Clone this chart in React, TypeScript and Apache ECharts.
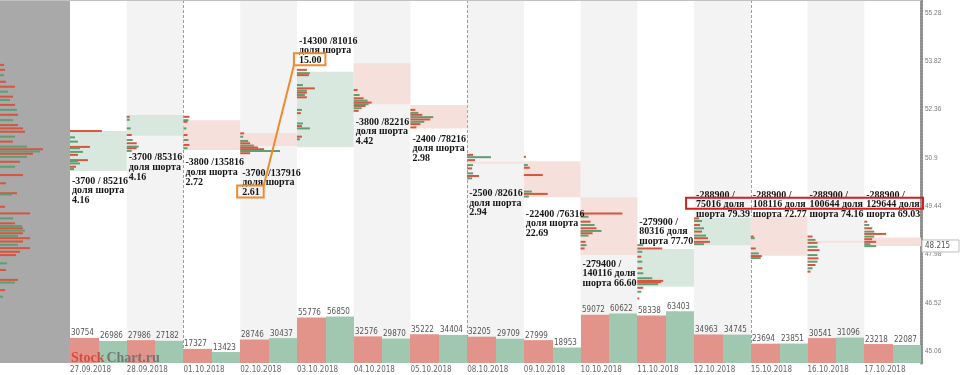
import React, { useEffect, useRef } from "react";
import * as echarts from "echarts";

// ---------- data ----------
const dates = [
  "27.09.2018", "28.09.2018", "01.10.2018", "02.10.2018", "03.10.2018",
  "04.10.2018", "05.10.2018", "08.10.2018", "09.10.2018", "10.10.2018",
  "11.10.2018", "12.10.2018", "15.10.2018", "16.10.2018", "17.10.2018",
];
const sellVolume = [30754, 27986, 17327, 28746, 55776, 32576, 35222, 32205, 27999, 59072, 58338, 34963, 23694, 30541, 23218];
const buyVolume = [26986, 27182, 13423, 30437, 56850, 29870, 34404, 29709, 18953, 60622, 63403, 34745, 23851, 31096, 22087];
const openPrice = [50.48, 51.55, 52.02, 51.63, 51.2, 53.74, 52.48, 50.76, 50.78, 49.69, 46.98, 48.24, 49.12, 48.37, 48.47];
const closePrice = [51.69, 52.175, 51.12, 51.24, 53.48, 52.5, 51.77, 50.7, 49.69, 47.94, 48.12, 49.07, 47.92, 48.31, 48.215];
const notePrice = [50.21, 50.91, 50.76, 50.44, 54.44, 51.99, 51.47, 49.83, 49.2, 47.69, 48.97, 49.78, 49.78, 49.78, 49.78];
const noteLines = [
  ["-3700 / 85216", "доля шорта", "4.16"],
  ["-3700 /85316", "доля шорта", "4.16"],
  ["-3800 /135816", "доля шорта", "2.72"],
  ["-3700 /137916", "доля шорта", "2.61"],
  ["-14300 /81016", "доля шорта", "15.00"],
  ["-3800 /82216", "доля шорта", "4.42"],
  ["-2400 /78216", "доля шорта", "2.98"],
  ["-2500 /82616", "доля шорта", "2.94"],
  ["-22400 /76316", "доля шорта", "22.69"],
  ["-279400 /", "140116 доля", "шорта 66.60"],
  ["-279900 /", "80316 доля", "шорта 77.70"],
  ["-288900 /", "75016 доля", "шорта 79.39"],
  ["-288900 /", "108116 доля", "шорта 72.77"],
  ["-288900 /", "100644 доля", "шорта 74.16"],
  ["-288900 /", "129644 доля", "шорта 69.03"],
];
const priceTicks = [45.06, 46.52, 47.98, 49.44, 50.9, 52.36, 53.82, 55.28];

// [day, price, volume, side(0 sell / 1 buy)]
const dayProfile = [
  [0, 51.69, 32, 0], [0, 51.5, 5, 1], [0, 51.37, 8, 1], [0, 51.21, 20, 0], [0, 51.17, 10, 1], [0, 51.06, 13, 1],
  [0, 50.97, 8, 0], [0, 50.81, 18, 0], [0, 50.78, 8, 1], [0, 50.71, 10, 1], [0, 50.61, 6, 0], [0, 50.54, 4, 1],
  [1, 52.12, 3, 0], [1, 52.03, 3, 1], [1, 51.77, 4, 1], [1, 51.57, 5, 0], [1, 51.42, 6, 1], [1, 51.32, 10, 0],
  [1, 51.22, 12, 1], [1, 51.17, 10, 0], [1, 51.09, 5, 1],
  [2, 52.12, 6, 0], [2, 52.02, 5, 1], [2, 51.97, 4, 0], [2, 51.77, 3, 1], [2, 51.57, 4, 0], [2, 51.42, 5, 1],
  [2, 51.27, 6, 0], [2, 51.17, 4, 1],
  [3, 51.62, 4, 0], [3, 51.52, 3, 1], [3, 51.39, 8, 1], [3, 51.32, 10, 0], [3, 51.25, 14, 1], [3, 51.19, 18, 0],
  [3, 51.14, 24, 0], [3, 51.09, 40, 1], [3, 51.02, 10, 0],
  [4, 53.54, 10, 0], [4, 53.44, 13, 1], [4, 53.38, 12, 0], [4, 53.08, 6, 1], [4, 52.98, 18, 0], [4, 52.91, 10, 1],
  [4, 52.85, 10, 0], [4, 52.78, 8, 1], [4, 52.71, 10, 0], [4, 52.33, 5, 1], [4, 52.23, 4, 0], [4, 51.92, 6, 1],
  [4, 51.84, 5, 0], [4, 51.77, 13, 1], [4, 51.52, 5, 0], [4, 51.44, 3, 1],
  [5, 52.93, 4, 0], [5, 52.78, 6, 1], [5, 52.68, 10, 0], [5, 52.61, 14, 1], [5, 52.55, 18, 0], [5, 52.5, 15, 1],
  [5, 52.45, 12, 0], [5, 52.38, 8, 1], [5, 52.3, 5, 0],
  [6, 52.33, 5, 0], [6, 52.24, 8, 1], [6, 52.18, 12, 0], [6, 52.11, 23, 1], [6, 52.04, 20, 0], [6, 51.97, 14, 1],
  [6, 51.9, 10, 0], [6, 51.8, 6, 0],
  [7, 50.97, 6, 0], [7, 50.9, 24, 1], [7, 50.81, 8, 0], [7, 50.66, 6, 1], [7, 50.56, 5, 0], [7, 50.41, 6, 1],
  [7, 50.33, 12, 0], [7, 50.26, 5, 1],
  [8, 50.91, 2, 0], [8, 50.66, 4, 1], [8, 50.58, 6, 0], [8, 50.36, 19, 0], [8, 49.86, 8, 1], [8, 49.79, 24, 0],
  [8, 49.71, 5, 1],
  [9, 49.2, 42, 0], [9, 49.1, 8, 1], [9, 48.95, 10, 0], [9, 48.85, 14, 1], [9, 48.75, 16, 0], [9, 48.67, 21, 1],
  [9, 48.6, 12, 0], [9, 48.53, 8, 1], [9, 48.34, 5, 0], [9, 48.24, 6, 1], [9, 48.14, 4, 0],
  [10, 48.24, 6, 1], [10, 48.14, 25, 0], [10, 48.04, 5, 1], [10, 47.89, 4, 0], [10, 47.74, 5, 1], [10, 47.54, 5, 0],
  [10, 47.39, 6, 1], [10, 47.24, 15, 1], [10, 47.16, 26, 0], [10, 47.12, 24, 0], [10, 47.06, 21, 1],
  [10, 46.95, 6, 0], [10, 46.83, 4, 1], [10, 46.63, 2, 0],
  [11, 49.05, 5, 0], [11, 48.97, 8, 1], [11, 48.85, 6, 0], [11, 48.75, 10, 1], [11, 48.65, 8, 0], [11, 48.53, 12, 1],
  [11, 48.45, 14, 0], [11, 48.34, 16, 0], [11, 48.27, 10, 1],
  [12, 48.5, 3, 0], [12, 48.45, 4, 1], [12, 48.14, 5, 0], [12, 47.99, 8, 1], [12, 47.91, 11, 0], [12, 47.85, 10, 1],
  [13, 48.5, 5, 0], [13, 48.4, 8, 1], [13, 48.31, 10, 0], [13, 48.19, 10, 1], [13, 48.09, 12, 0], [13, 47.94, 10, 1],
  [13, 47.84, 11, 0], [13, 47.74, 10, 1], [13, 47.64, 8, 0], [13, 47.54, 5, 1], [13, 47.44, 3, 0],
  [14, 48.95, 3, 0], [14, 48.85, 5, 1], [14, 48.75, 8, 0], [14, 48.65, 10, 1], [14, 48.58, 22, 0], [14, 48.5, 10, 1],
  [14, 48.42, 8, 0], [14, 48.34, 12, 0], [14, 48.27, 6, 1], [14, 48.21, 12, 1],
];

// [price, volume, side]
const totalProfile = [
  [53.69, 4, 0], [53.54, 5, 0], [53.38, 4, 1], [53.18, 6, 0], [53.03, 15, 0], [52.88, 8, 1], [52.73, 13, 0],
  [52.63, 10, 1], [52.48, 15, 0], [52.33, 17, 1], [52.18, 18, 0], [52.02, 13, 1], [51.87, 18, 0], [51.77, 23, 0],
  [51.67, 25, 0], [51.52, 15, 1], [51.37, 13, 0], [51.22, 27, 1], [51.14, 43, 0], [51.07, 40, 1], [51.0, 33, 0],
  [50.91, 27, 1], [50.76, 20, 0], [50.61, 15, 1], [50.36, 23, 0], [50.11, 6, 0], [49.81, 17, 0], [49.77, 12, 1],
  [49.4, 5, 0], [49.2, 30, 0], [49.05, 13, 1], [48.9, 15, 0], [48.82, 22, 1], [48.75, 23, 0], [48.68, 25, 1],
  [48.6, 23, 0], [48.52, 18, 1], [48.45, 30, 0], [48.35, 23, 0], [48.25, 18, 1], [48.15, 30, 0], [48.04, 20, 0],
  [47.94, 16, 0], [47.69, 7, 1], [47.49, 6, 0], [47.19, 18, 0], [47.11, 15, 1], [46.88, 5, 0], [46.68, 3, 1],
];

// ---------- scales & styles ----------
const PRICE_MIN = 44.677;
const PRICE_MAX = 55.652;
const VOLUME_MAX = 122500;
const DAY_PROFILE_FULL = 57;
const TOTAL_PROFILE_FULL = 70;

const FONT_AXIS = '"DejaVu Sans Condensed", "DejaVu Sans", sans-serif';
const FONT_NOTE_FAMILY = '"Liberation Serif", serif';
const NOTE_SIZE = 10;
const NOTE_LH = 9.6;
const NOTE_PAD = 2;

const COLORS = {
  totalBg: "#a9a9a9",
  stripe: "#f3f3f3",
  weekLine: "#9c9c9c",
  boxUp: "#d9e8de",
  boxDown: "#f6e0dc",
  sellLine: "#d6553f",
  buyLine: "#5d9e74",
  sellBar: "#e2938a",
  buyBar: "#a0c7b0",
  volText: "#555555",
  dateText: "#666666",
  axisText: "#7a7a7a",
  axisLine: "#8e8e8e",
  note: "#151515",
  orange: "#ef8a2d",
  red: "#d41f1f",
};

function isMonday(s: string) {
  const [d, m, y] = s.split(".").map(Number);
  return new Date(y, m - 1, d).getDay() === 1;
}

let measureCtx: CanvasRenderingContext2D | null = null;
function textWidth(text: string, font: string) {
  if (!measureCtx) measureCtx = document.createElement("canvas").getContext("2d");
  if (!measureCtx) return text.length * 5;
  measureCtx.font = font;
  return measureCtx.measureText(text).width;
}

export default function App() {
  const ref = useRef<HTMLDivElement>(null);

  useEffect(() => {
    if (!ref.current) return;
    const chart = echarts.init(ref.current, null, { renderer: "svg" });
    const noteFont = `bold ${NOTE_SIZE}px ${FONT_NOTE_FAMILY}`;

    const option: any = {
      animation: false,
      grid: [
        { left: 0, top: 0, width: 70, bottom: 12, show: true, backgroundColor: COLORS.totalBg, borderWidth: 0 },
        { left: 70, right: 39, top: 0, bottom: 12 },
        { left: 70, right: 39, bottom: 12, height: 100 },
      ],
      xAxis: [
        { gridIndex: 0, type: "value", min: 0, max: TOTAL_PROFILE_FULL, show: false },
        { gridIndex: 1, type: "value", min: 0, max: dates.length, show: false },
        {
          gridIndex: 2, type: "value", min: 0, max: dates.length, interval: 1,
          axisLine: { show: false }, axisTick: { show: false }, splitLine: { show: false },
          axisLabel: {
            formatter: (v: number) => dates[v] ?? "",
            align: "left", margin: 2, fontSize: 8, color: COLORS.dateText, fontFamily: FONT_AXIS,
          },
        },
      ],
      yAxis: [
        { gridIndex: 0, type: "value", min: PRICE_MIN, max: PRICE_MAX, show: false },
        {
          gridIndex: 1, type: "value", position: "right", min: PRICE_MIN, max: PRICE_MAX,
          axisLine: { show: true, onZero: false, lineStyle: { color: COLORS.axisLine, width: 3, type: [2, 1] } },
          axisTick: { show: false }, splitLine: { show: false },
          axisLabel: {
            customValues: priceTicks, formatter: (v: number) => String(v),
            fontSize: 6.5, color: COLORS.axisText, margin: 4, fontFamily: "Liberation Sans, sans-serif",
          },
        },
        { gridIndex: 2, type: "value", min: 0, max: VOLUME_MAX, show: false },
      ],
      graphic: [
        { type: "line", z: 50, shape: { x1: 0, y1: 0.5, x2: 921, y2: 0.5 }, style: { stroke: "#c2c2c2", lineWidth: 1 } },
      ],
      series: [
        // alternating day stripes + week separators
        {
          type: "custom", xAxisIndex: 1, yAxisIndex: 1, z: 1, silent: true,
          data: dates.map((_, i) => [i, PRICE_MAX]), encode: { x: 0, y: 1 },
          renderItem: (params: any, api: any) => {
            const i = api.value(0);
            const cs = params.coordSys;
            const x0 = api.coord([i, PRICE_MAX])[0];
            const x1 = api.coord([i + 1, PRICE_MAX])[0];
            const children: any[] = [];
            if (i % 2 === 1) {
              children.push({ type: "rect", shape: { x: x0, y: cs.y, width: x1 - x0, height: cs.height }, style: { fill: COLORS.stripe } });
            }
            if (isMonday(dates[i])) {
              const xl = Math.round(x0) + 0.5;
              children.push({ type: "line", shape: { x1: xl, y1: cs.y, x2: xl, y2: cs.y + cs.height }, style: { stroke: COLORS.weekLine, lineWidth: 1, lineDash: [3, 2] } });
            }
            return { type: "group", children };
          },
        },
        // open/close boxes
        {
          type: "custom", xAxisIndex: 1, yAxisIndex: 1, z: 2, silent: true,
          data: dates.map((_, i) => [i, openPrice[i], closePrice[i]]), encode: { x: 0, y: [1, 2] },
          renderItem: (params: any, api: any) => {
            const i = api.value(0), o = api.value(1), c = api.value(2);
            const x0 = api.coord([i, o])[0], x1 = api.coord([i + 1, o])[0];
            const yt = api.coord([i, Math.max(o, c)])[1];
            const yb = api.coord([i, Math.min(o, c)])[1];
            return { type: "rect", shape: { x: x0, y: yt, width: x1 - x0, height: Math.max(yb - yt, 2) }, style: { fill: c > o ? COLORS.boxUp : COLORS.boxDown } };
          },
        },
        // day volume profiles
        {
          type: "custom", xAxisIndex: 1, yAxisIndex: 1, z: 3, silent: true,
          data: dayProfile, encode: { x: 0, y: 1 },
          renderItem: (params: any, api: any) => {
            const d = api.value(0), p = api.value(1), v = api.value(2), side = api.value(3);
            const [x0, y] = api.coord([d, p]);
            const colW = api.size([1, 0])[0];
            return { type: "rect", shape: { x: x0, y: y - 1, width: (v / DAY_PROFILE_FULL) * colW, height: 2 }, style: { fill: side ? COLORS.buyLine : COLORS.sellLine } };
          },
        },
        // total profile (left)
        {
          type: "custom", xAxisIndex: 0, yAxisIndex: 0, z: 3, silent: true,
          data: totalProfile.map((r) => [r[1], r[0], r[2]]), encode: { x: 0, y: 1 },
          renderItem: (params: any, api: any) => {
            const v = api.value(0), p = api.value(1), side = api.value(2);
            const [x1, y] = api.coord([v, p]);
            const x0 = params.coordSys.x;
            return { type: "rect", shape: { x: x0, y: y - 1, width: x1 - x0, height: 2 }, style: { fill: side ? COLORS.buyLine : COLORS.sellLine } };
          },
        },
        // volume bars
        {
          type: "custom", xAxisIndex: 2, yAxisIndex: 2, z: 4, silent: true,
          data: dates.map((_, i) => [i, sellVolume[i], buyVolume[i]]), encode: { x: 0, y: 1 },
          renderItem: (params: any, api: any) => {
            const i = api.value(0), s = api.value(1), b = api.value(2);
            const x0 = Math.round(api.coord([i, 0])[0]);
            const x1 = Math.round(api.coord([i + 1, 0])[0]);
            const xm = Math.round((x0 + x1) / 2);
            const yb = api.coord([i, 0])[1];
            const ys = api.coord([i, s])[1];
            const yg = api.coord([i, b])[1];
            const lbl = (t: number, x: number, y: number) => ({
              type: "text", x: x + 1, y: y - 1,
              style: { text: String(t), fill: COLORS.volText, fontSize: 8, fontFamily: FONT_AXIS, align: "left", verticalAlign: "bottom" },
            });
            return {
              type: "group",
              children: [
                { type: "rect", shape: { x: x0, y: ys, width: xm - x0, height: yb - ys }, style: { fill: COLORS.sellBar } },
                { type: "rect", shape: { x: xm, y: yg, width: x1 - xm, height: yb - yg }, style: { fill: COLORS.buyBar } },
                lbl(s, x0, ys),
                lbl(b, xm, yg),
              ],
            };
          },
        },
        // notes
        {
          type: "custom", xAxisIndex: 1, yAxisIndex: 1, z: 6, silent: true, clip: false,
          data: dates.map((_, i) => [i, notePrice[i]]), encode: { x: 0, y: 1 },
          renderItem: (params: any, api: any) => {
            const i = api.value(0);
            const [x, y] = api.coord([i, notePrice[i]]);
            return {
              type: "text", x: x + NOTE_PAD, y: y - NOTE_LH / 2,
              style: {
                text: noteLines[i].join("\n"), fill: COLORS.note, fontSize: NOTE_SIZE, fontWeight: "bold",
                fontFamily: FONT_NOTE_FAMILY, lineHeight: NOTE_LH, align: "left", verticalAlign: "top",
              },
            };
          },
        },
        // highlights, last price label, watermark
        {
          type: "custom", xAxisIndex: 1, yAxisIndex: 1, z: 8, silent: true, clip: false,
          data: [[0, PRICE_MAX]], encode: { x: 0, y: 1 },
          renderItem: (params: any, api: any) => {
            const cs = params.coordSys;
            const anchor = (i: number, line: number) => {
              const [x, y] = api.coord([i, notePrice[i]]);
              return { x: x + NOTE_PAD, y: y + line * NOTE_LH };
            };
            const box = (i: number, line: number) => {
              const a = anchor(i, line);
              const w = textWidth(noteLines[i][line], noteFont);
              return { x: a.x - 5, y: a.y - 6, width: w + 9, height: 12 };
            };
            const bA = box(3, 2);
            const bB = box(4, 2);
            const left = api.coord([11, PRICE_MAX])[0] - 8;
            const right = cs.x + cs.width + 2;
            const rc = anchor(11, 1).y;
            const axisX = cs.x + cs.width;
            const lastY = api.coord([14, closePrice[14]])[1];
            const wmFont = `bold 14px ${FONT_NOTE_FAMILY}`;
            const wmX = cs.x + 1;
            const wmY = cs.y + cs.height - 6;
            const w1 = textWidth("Stock", wmFont);
            return {
              type: "group",
              children: [
                { type: "rect", shape: bA, style: { fill: "none", stroke: COLORS.orange, lineWidth: 2 } },
                { type: "rect", shape: bB, style: { fill: "none", stroke: COLORS.orange, lineWidth: 2 } },
                { type: "line", shape: { x1: bA.x + bA.width, y1: bA.y, x2: bB.x, y2: bB.y + bB.height }, style: { stroke: COLORS.orange, lineWidth: 2 } },
                { type: "rect", shape: { x: left, y: rc - 6, width: right - left, height: 11 }, style: { fill: "none", stroke: COLORS.red, lineWidth: 2 } },
                { type: "rect", shape: { x: axisX + 1, y: lastY - 6, width: 37, height: 12 }, style: { fill: "#ffffff", stroke: "#bdbdbd", lineWidth: 1 } },
                { type: "text", x: axisX + 4, y: lastY, style: { text: closePrice[14].toFixed(3), fill: "#555555", fontSize: 8, fontFamily: FONT_AXIS, verticalAlign: "middle", align: "left" } },
                { type: "text", x: wmX, y: wmY, style: { text: "Stock", fill: "#d4453b", font: wmFont, verticalAlign: "middle", align: "left", opacity: 0.9 } },
                { type: "text", x: wmX + w1 + 2, y: wmY, style: { text: "Chart.ru", fill: "#707070", font: wmFont, verticalAlign: "middle", align: "left", opacity: 0.9 } },
              ],
            };
          },
        },
      ],
    };

    chart.setOption(option);
    return () => chart.dispose();
  }, []);

  return <div ref={ref} style={{ position: "fixed", left: 0, top: 0, width: 960, height: 375 }} />;
}
